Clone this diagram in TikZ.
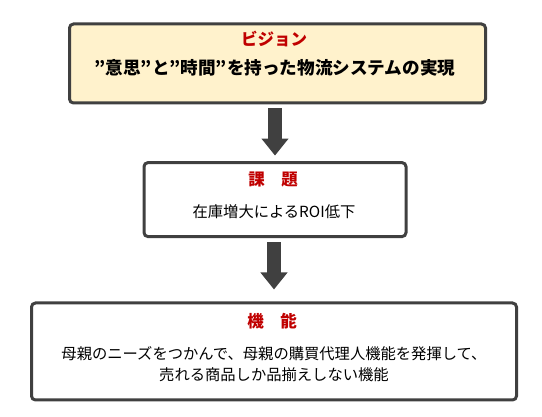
\documentclass[tikz,border=0pt]{standalone}
\usepackage{fontspec}
\setmainfont{Noto Sans CJK JP}
\usepackage{tikz}
\usetikzlibrary{arrows.meta,positioning,calc}
\definecolor{boxgray}{HTML}{404040}
\definecolor{vsnfill}{HTML}{FFF2CC}
\definecolor{ttlred}{HTML}{C00000}
\tikzset{
  blk/.style   ={rectangle, rounded corners=4pt, draw=boxgray, line width=3pt,
                 fill=white, inner sep=0pt},
  vblk/.style  ={blk, fill=vsnfill},
  ttl/.style   ={text=ttlred, font=\fontsize{16.5}{18}\selectfont\bfseries},
  txt/.style   ={text=black, font=\fontsize{15.3}{21.5}\selectfont, align=center},
  btxt/.style  ={text=black, font=\fontsize{17.6}{20}\selectfont\bfseries},
  ar/.style    ={-{Triangle[width=26pt,length=17pt]}, line width=14pt,
                 draw=boxgray, shorten <=4pt}
}
\begin{document}
\begin{tikzpicture}[x=1pt,y=-1pt]
\useasboundingbox (0,0) rectangle (542,417);
\node[vblk, minimum width=416pt, minimum height=79pt] (vsn) at (277.5,63.5) {};
\node[ttl]  (vsn-t) at (274,39) {ビジョン};
\node[btxt] (vsn-b) at (275,68) {”意思”と”時間”を持った物流システムの実現};

\node[blk, minimum width=262pt, minimum height=74pt] (iss) at (275,199.6) {};
\node[ttl] (iss-t) at (273,180) {課　題};
\node[txt] (iss-b) at (274,212) {在庫増大によるROI低下};

\node[blk, minimum width=485pt, minimum height=97pt] (fnc) at (274,351.5) {};
\node[ttl] (fnc-t) at (272,321) {機　能};
\node[txt] (fnc-b) at (274,364.3)
      {母親のニーズをつかんで、母親の購買代理人機能を発揮して、\\売れる商品しか品揃えしない機能};

\draw[ar, shorten >=5.5pt] (vsn.south -| iss.north) -- (iss.north);
\draw[ar, shorten >=12pt]  (iss.south -| fnc.north) -- (fnc.north);
\end{tikzpicture}
\end{document}
